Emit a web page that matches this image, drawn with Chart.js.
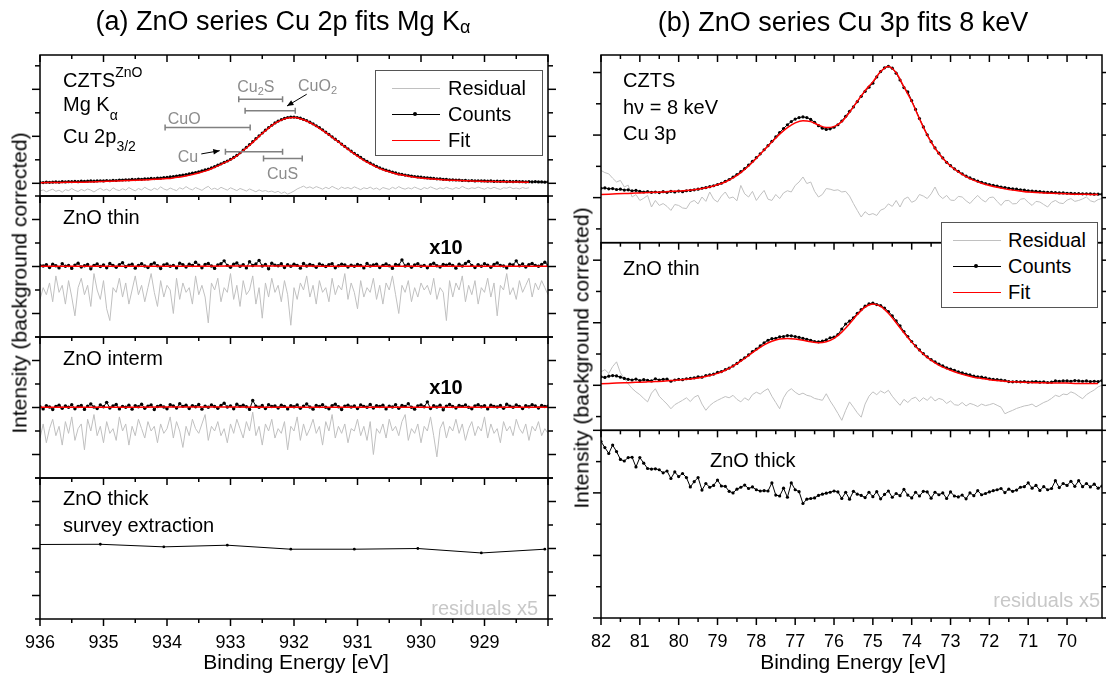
<!DOCTYPE html>
<html lang="en">
<head>
<meta charset="UTF-8" />
<title>ZnO series Cu 2p / Cu 3p fits</title>
<script src="https://cdn.jsdelivr.net/npm/chart.js"></script>
<style>
  body { margin: 0; background: #fff; }
  #page {
    position: relative; width: 1106px; height: 678px; overflow: hidden;
    font-family: "Liberation Sans", Arial, sans-serif; color: #000;
  }
  canvas { position: absolute; top: 0; }
  .t { position: absolute; font-size: 20px; line-height: 20px; white-space: nowrap; }
  .c { transform: translateX(-50%); }
  .title { font-size: 27px; line-height: 27px; }
  .axis { font-size: 21px; line-height: 21px; }
  .ytitle { transform: translate(-50%, -50%) rotate(-90deg); }
  .sm { font-size: 14px; position: relative; }
  .note { color: #c8c8c8; }
  .legend { position: absolute; border: 1px solid #555; background: #fff; }
  .legend .ln { position: absolute; left: 16px; width: 48px; height: 0; border-top: 1.5px solid; }
  .legend .dot { position: absolute; left: 21px; top: -3px; width: 4px; height: 4px; border-radius: 50%; background: #000; }
  .legend .t { left: 72px; }
</style>
</head>
<body>
<div id="page">
  <canvas id="chartA" width="575" height="678" style="left:0"></canvas>
  <canvas id="chartB" width="531" height="678" style="left:575px"></canvas>

  <!-- panel titles and axis titles -->
  <div class="t title c" style="left:283px;top:8px">(a) ZnO series Cu 2p fits Mg K<span class="sm" style="font-size:18px;top:3px">α</span></div>
  <div class="t title c" style="left:843px;top:9px">(b) ZnO series Cu 3p fits 8 keV</div>
  <div class="t axis c" style="left:296px;top:651px">Binding Energy [eV]</div>
  <div class="t axis c" style="left:853px;top:651px">Binding Energy [eV]</div>
  <div class="t axis ytitle" style="left:19px;top:283px">Intensity (background corrected)</div>
  <div class="t axis ytitle" style="left:581px;top:358px">Intensity (background corrected)</div>

  <!-- panel (a) notes -->
  <div class="t" style="left:63px;top:70px">CZTS<span class="sm" style="top:-10px">ZnO</span></div>
  <div class="t" style="left:63px;top:94px">Mg K<span class="sm" style="top:9px">α</span></div>
  <div class="t" style="left:63px;top:126px">Cu 2p<span class="sm" style="top:8px">3/2</span></div>
  <div class="t" style="left:63px;top:207px">ZnO thin</div>
  <div class="t c" style="left:446px;top:237px;font-weight:bold">x10</div>
  <div class="t" style="left:63px;top:348px">ZnO interm</div>
  <div class="t c" style="left:446px;top:377px;font-weight:bold">x10</div>
  <div class="t" style="left:63px;top:488px">ZnO thick</div>
  <div class="t" style="left:63px;top:515px">survey extraction</div>
  <div class="t note" style="right:568px;top:598px">residuals x5</div>

  <!-- panel (b) notes -->
  <div class="t" style="left:623px;top:70px">CZTS</div>
  <div class="t" style="left:623px;top:97px">hν = 8 keV</div>
  <div class="t" style="left:623px;top:123px">Cu 3p</div>
  <div class="t" style="left:623px;top:258px">ZnO thin</div>
  <div class="t" style="left:710px;top:450px">ZnO thick</div>
  <div class="t note" style="right:6px;top:590px">residuals x5</div>

  <!-- legends -->
  <div class="legend" style="left:375px;top:70px;width:166px;height:84px">
    <div class="ln" style="top:17px;border-color:#c0c0c0"></div><div class="t" style="top:7px">Residual</div>
    <div class="ln" style="top:43px;border-color:#000"><div class="dot"></div></div><div class="t" style="top:33px">Counts</div>
    <div class="ln" style="top:69px;border-color:#f00"></div><div class="t" style="top:59px">Fit</div>
  </div>
  <div class="legend" style="left:941px;top:222px;width:155px;height:84px">
    <div class="ln" style="top:17px;border-color:#c0c0c0;left:11px"></div><div class="t" style="top:7px;left:66px">Residual</div>
    <div class="ln" style="top:43px;border-color:#000;left:11px"><div class="dot"></div></div><div class="t" style="top:33px;left:66px">Counts</div>
    <div class="ln" style="top:69px;border-color:#f00;left:11px"></div><div class="t" style="top:59px;left:66px">Fit</div>
  </div>
</div>

<script>
// energy grids (binding energy, eV)
function grid(start, step, n) {
  const a = [];
  for (let i = 0; i < n; i++) a.push(+(start - i * step).toFixed(2));
  return a;
}
const e2p = grid(936, 0.05, 161);     // 936.00 .. 928.00
const e2pFit = grid(936, 0.1, 78);    // 936.0 .. 928.3
const e2pRes = grid(936, 0.05, 155);  // 936.00 .. 928.30
const e2pFlat = grid(936, 1, 9);      // 936 .. 928
const e3p = grid(82, 0.1, 130);       // 82.0 .. 69.1
const e3pFit = grid(82, 0.2, 65);     // 82.0 .. 69.2

const ticks2p = [936, 935, 934, 933, 932, 931, 930, 929];
const ticks3p = [82, 81, 80, 79, 78, 77, 76, 75, 74, 73, 72, 71, 70];

// ---- (a) Cu 2p, CZTS^ZnO, Mg Ka ----
const czts2pCounts = [
  .04,.03,.05,.04,.05,.06,.05,.07,.06,.07,
  .07,.08,.07,.09,.08,.09,.10,.09,.10,.11,
  .10,.12,.11,.13,.12,.14,.14,.15,.15,.17,
  .16,.18,.17,.19,.19,.21,.20,.22,.22,.24,
  .25,.27,.29,.31,.33,.35,.37,.40,.43,.46,
  .49,.53,.57,.61,.66,.71,.77,.83,.89,.95,
  1.02,1.10,1.19,1.30,1.41,1.53,1.65,1.77,1.90,2.02,
  2.14,2.26,2.37,2.47,2.57,2.65,2.71,2.76,2.80,2.82,
  2.82,2.80,2.77,2.72,2.67,2.60,2.53,2.45,2.37,2.28,
  2.18,2.08,1.98,1.88,1.78,1.67,1.57,1.47,1.37,1.28,
  1.19,1.10,1.01,.93,.86,.79,.72,.66,.61,.56,
  .52,.48,.44,.40,.38,.35,.33,.31,.29,.27,
  .26,.24,.23,.22,.21,.19,.19,.17,.17,.15,
  .15,.14,.14,.12,.13,.11,.12,.10,.11,.10,
  .10,.09,.10,.08,.09,.08,.09,.07,.08,.07,
  .08,.07,.07,.06,.07,.06,.07,.06,.06,.05,
  .06
];
const czts2pFit = [
  .02,.03,.03,.03,.04,.04,.05,.05,.06,.07,
  .08,.09,.10,.11,.12,.13,.14,.15,.17,.18,
  .20,.23,.27,.31,.37,.44,.52,.62,.74,.87,
  1.00,1.17,1.39,1.62,1.87,2.12,2.35,2.55,2.69,2.78,
  2.80,2.75,2.65,2.51,2.34,2.16,1.96,1.76,1.55,1.35,
  1.16,.98,.83,.69,.58,.49,.41,.35,.30,.26,
  .23,.20,.18,.16,.14,.13,.12,.11,.10,.09,
  .08,.08,.07,.07,.06,.06,.05,.05
];
const czts2pRes = [
  -.33,-.28,-.36,-.30,-.25,-.34,-.29,-.38,-.27,-.31,
  -.22,-.30,-.35,-.26,-.32,-.24,-.29,-.37,-.28,-.21,
  -.30,-.25,-.33,-.19,-.27,-.31,-.23,-.29,-.18,-.26,
  -.32,-.22,-.28,-.17,-.25,-.30,-.21,-.27,-.15,-.24,
  -.29,-.20,-.26,-.31,-.19,-.25,-.14,-.23,-.28,-.18,
  -.24,-.30,-.20,-.13,-.26,-.21,-.27,-.17,-.23,-.29,
  -.19,-.25,-.31,-.22,-.27,-.33,-.24,-.30,-.36,-.28,
  -.34,-.31,-.36,-.33,-.39,-.34,-.43,-.37,-.46,-.40,
  -.33,-.24,-.18,-.12,-.20,-.15,-.22,-.14,-.19,-.25,
  -.17,-.23,-.13,-.20,-.26,-.16,-.22,-.18,-.24,-.15,
  -.21,-.27,-.19,-.23,-.16,-.25,-.20,-.28,-.18,-.22,
  -.26,-.17,-.23,-.14,-.21,-.25,-.19,-.24,-.16,-.22,
  -.27,-.18,-.23,-.15,-.21,-.26,-.19,-.24,-.17,-.22,
  -.25,-.18,-.23,-.13,-.20,-.24,-.19,-.22,-.16,-.21,
  -.25,-.18,-.23,-.17,-.22,-.26,-.19,-.21,-.16,-.23,
  -.20,-.24,-.18,-.22,-.19
];

// ---- (a) ZnO thin, x10 ----
const thin2pCounts = [
  .05,.02,.08,-.04,.10,.03,-.06,.12,.01,.04,
  -.08,.06,.14,-.02,.03,.09,-.10,.05,.11,.00,
  .07,-.05,.13,.04,-.03,.08,.16,-.01,.06,.10,
  -.07,.04,.12,.02,-.04,.09,.15,.03,-.09,.07,
  .11,.01,.05,-.06,.14,.08,-.02,.10,.04,.18,
  .06,-.05,.09,.13,.02,-.08,.07,.12,.24,.05,
  -.03,.10,.15,.01,.08,-.06,.20,.04,.11,.26,
  .02,.09,-.10,.14,.06,.03,.12,-.04,.08,.01,
  .10,.05,-.07,.13,.02,.09,.04,-.03,.11,.06,
  .00,.08,.12,-.05,.03,.10,.07,-.02,.06,.01,
  .09,.04,-.06,.13,.02,.07,.10,-.04,.05,.11,
  .03,-.08,.09,.06,.28,.02,.10,-.03,.07,.12,
  .01,.05,-.05,.08,.14,.03,-.02,.09,.06,.11,
  .04,-.07,.10,.02,.13,.22,.05,-.04,.08,.01,
  .12,.06,-.03,.09,.15,.04,.02,-.06,.10,.07,
  .24,.03,.11,-.02,.08,.13,.05,.01,.09,.18,
  .06
];
const thin2pRes = [
  -1.4,-0.9,-1.2,-0.7,-1.5,-0.4,-1.1,-0.8,-1.6,-0.6,
  -1.3,-2.1,-0.9,-0.5,-1.2,-0.8,-1.7,-0.3,-1.0,-1.4,
  -0.6,-1.8,-2.3,-0.9,-1.1,-0.5,-1.3,-0.7,-1.6,-1.0,
  -0.4,-1.2,-0.8,-1.5,-0.9,-0.3,-1.1,-1.7,-0.6,-1.3,
  -0.8,-1.0,-2.0,-0.5,-1.4,-0.7,-1.1,-0.9,-1.6,-0.4,
  -1.2,-0.8,-1.3,-2.4,-0.7,-1.0,-0.5,-1.5,-0.9,-1.1,
  -0.3,-1.4,-0.8,-1.7,-0.6,-1.2,-1.0,-0.4,-1.6,-0.9,
  -2.2,-0.7,-1.3,-0.5,-1.1,-0.8,-1.5,-0.6,-1.2,-2.5,
  -0.9,-1.4,-0.7,-1.0,-0.4,-1.3,-0.8,-1.6,-0.6,-1.1,
  -0.9,-1.5,-0.5,-1.2,-0.8,-1.0,-0.3,-1.4,-0.7,-1.1,
  -1.8,-0.6,-1.3,-0.9,-1.1,-0.5,-1.4,-0.8,-1.6,-0.7,
  -1.0,-0.4,-1.2,-2.0,-0.8,-1.1,-0.6,-1.5,-0.9,-1.3,
  -0.7,-1.0,-0.8,-1.2,-0.5,-1.4,-0.9,-1.1,-2.3,-0.6,
  -1.3,-0.7,-1.0,-0.4,-1.5,-0.8,-1.2,-0.6,-1.6,-0.9,
  -1.1,-0.5,-1.3,-0.7,-2.1,-0.8,-1.0,-0.3,-1.2,-0.9,
  -1.4,-0.6,-1.1,-0.8,-0.5,-1.3,-0.7,-1.0,-0.6,-0.9,
  -1.2
];
const thin2pFit = [0.01, 0.01, 0.01, 0.02, 0.02, 0.01, 0.01, 0.01, 0.01];

// ---- (a) ZnO interm, x10 ----
const interm2pCounts = [
  .03,-.06,.08,.02,-.09,.05,.10,-.03,.07,.01,
  .12,-.05,.04,.09,-.08,.06,.15,.02,-.04,.11,
  .03,.22,-.02,.07,.13,-.06,.05,.01,.10,-.07,
  .08,.03,.14,-.03,.06,.11,-.09,.04,.09,.02,
  -.05,.12,.07,-.02,.16,.05,.10,-.04,.08,.03,
  .13,-.07,.06,.01,.11,.04,-.03,.09,.18,.02,
  .07,-.05,.14,.05,.10,.03,-.08,.30,.06,.01,
  .09,-.04,.12,.04,.07,-.02,.10,.05,-.06,.08,
  .03,.11,-.03,.06,.15,.02,-.07,.09,.04,.12,
  .01,-.05,.08,.14,.03,-.09,.06,.10,.02,.07,
  -.04,.11,.05,.01,.13,-.02,.08,.04,.10,-.06,
  .06,.02,.12,-.03,.09,.05,.16,.01,-.07,.07,
  .11,.03,.24,-.04,.08,.02,.10,-.10,.06,.13,
  .04,-.02,.09,.05,.11,.01,-.05,.07,.12,.03,
  .08,-.06,.10,.04,.02,.09,-.03,.14,.06,.01,
  .11,.05,-.04,.08,.03,.12,.07,-.02,.09,.04,
  .06
];
const interm2pRes = [
  -1.3,-0.7,-1.5,-0.9,-0.5,-1.2,-0.8,-1.6,-0.6,-1.1,
  -0.4,-1.4,-0.9,-0.7,-1.8,-0.5,-1.0,-0.3,-1.2,-0.8,
  -1.5,-0.6,-1.1,-0.9,-1.4,-0.4,-1.0,-0.7,-1.6,-0.8,
  -1.2,-0.5,-0.9,-1.3,-0.6,-1.0,-0.8,-1.5,-0.7,-1.1,
  -0.9,-0.4,-1.3,-0.6,-1.0,-1.7,-0.8,-1.2,-0.5,-0.9,
  -1.1,-0.7,-0.3,-1.4,-0.8,-1.0,-0.6,-1.2,-0.9,-1.5,
  -0.7,-1.1,-0.5,-0.9,-1.3,-0.6,-1.0,-0.2,-1.2,-0.8,
  -1.6,-0.7,-1.0,-0.5,-1.3,-0.9,-1.1,-0.6,-1.8,-0.8,
  -1.0,-0.4,-1.4,-0.7,-1.2,-0.9,-0.5,-1.1,-0.8,-1.6,
  -0.6,-1.0,-0.3,-1.3,-0.8,-1.1,-0.7,-1.5,-0.9,-1.0,
  -0.5,-1.2,-0.8,-1.4,-0.6,-2.0,-0.9,-1.1,-0.7,-1.3,
  -0.5,-1.0,-0.8,-1.2,-0.6,-0.3,-1.4,-0.9,-1.1,-0.7,
  -1.5,-0.8,-1.0,-0.4,-1.2,-2.1,-0.9,-0.6,-1.3,-0.8,
  -1.0,-0.5,-1.1,-0.7,-1.4,-0.9,-0.6,-1.2,-0.8,-1.0,
  -0.4,-1.3,-0.7,-1.1,-0.9,-1.5,-0.6,-1.0,-0.8,-1.2,
  -0.5,-0.9,-1.1,-0.7,-1.4,-0.8,-1.0,-0.6,-1.2,-0.9,
  -1.1
];
const interm2pFit = [0.01, 0.01, 0.02, 0.02, 0.01, 0.01, 0.01, 0.01, 0.01];

// ---- (a) ZnO thick, survey extraction ----
const surveyE = [936.05, 935.05, 934.05, 933.05, 932.05, 931.05, 930.05, 929.05, 928.05];
const surveyCounts = [0.17, 0.18, 0.07, 0.14, -0.03, -0.03, 0.0, -0.19, -0.03];

// reference binding-energy ranges drawn over the CZTS^ZnO spectrum
const refNames = ['Cu_2S', 'CuO_2', 'CuO', 'Cu', 'CuS'];
const refHigh = [932.87, 932.77, 934.03, 933.08, 932.48];
const refLow = [932.18, 931.98, 932.69, 932.18, 931.87];
const refLevel = [3.58, 3.09, 2.38, 1.34, 1.06];
const refTextE = [932.6, 931.63, 933.73, 933.67, 932.18];
const refTextY = [4.13, 4.18, 2.8, 1.16, 0.45];
const arrowFrom = [[931.8, 3.79], [933.46, 1.25]];
const arrowTo = [[932.11, 3.29], [933.17, 1.39]];

// ---- (b) Cu 3p, CZTS, 8 keV ----
const czts3pCounts = [
  .30,.31,.28,.29,.26,.27,.24,.25,.22,.23,
  .20,.18,.19,.17,.18,.16,.19,.17,.20,.18,
  .21,.19,.22,.23,.25,.27,.30,.32,.35,.38,
  .42,.46,.52,.58,.66,.74,.83,.93,1.04,1.16,
  1.28,1.40,1.53,1.66,1.80,1.94,2.08,2.21,2.33,2.43,
  2.51,2.56,2.58,2.56,2.50,2.41,2.30,2.22,2.18,2.20,
  2.25,2.33,2.45,2.60,2.76,2.90,3.07,3.24,3.40,3.53,
  3.66,3.86,4.03,4.15,4.20,4.14,3.98,3.76,3.52,3.38,
  3.10,2.82,2.53,2.26,2.01,1.79,1.59,1.42,1.27,1.13,
  1.02,.92,.84,.76,.69,.63,.58,.53,.49,.45,
  .42,.39,.37,.34,.32,.30,.28,.27,.25,.24,
  .22,.21,.20,.19,.18,.17,.17,.16,.15,.15,
  .14,.14,.13,.13,.12,.12,.12,.11,.11,.11
];
const czts3pFit = [
  .10,.11,.12,.13,.14,.15,.16,.17,.18,.20,
  .21,.23,.25,.29,.34,.41,.50,.63,.80,1.01,
  1.26,1.52,1.78,2.03,2.24,2.39,2.46,2.43,2.32,2.24,
  2.27,2.43,2.73,3.08,3.42,3.70,4.03,4.19,3.99,3.54,
  3.08,2.52,2.00,1.58,1.26,1.01,.82,.67,.55,.46,
  .39,.33,.28,.24,.21,.18,.16,.15,.14,.13,
  .12,.11,.11,.10,.10
];
const czts3pRes = [
  .87,.80,.76,.62,.50,.55,.34,.40,.02,.10,
  -.09,-.02,.07,-.30,-.09,-.25,-.19,-.28,-.41,-.22,
  -.25,-.33,-.35,-.15,-.09,-.20,.02,-.12,.18,-.05,
  -.14,.05,.18,-.02,.02,-.10,.39,.12,.02,.20,
  -.09,.08,.23,-.05,-.09,.10,-.03,.15,.22,.18,
  .39,.50,.66,.45,.50,.20,.02,.10,.29,.27,
  .23,.25,.18,.20,.05,-.19,-.41,-.62,-.45,-.55,
  -.51,-.57,-.40,-.35,-.20,-.28,-.09,-.30,-.05,.02,
  -.15,-.09,.10,.05,-.03,.12,.34,.08,-.03,.07,
  -.08,-.09,.04,.02,-.10,-.19,-.05,.07,-.06,-.14,
  .00,.02,-.12,-.25,-.10,-.09,-.20,-.19,-.05,-.03,
  -.15,-.25,-.12,-.14,-.22,-.30,-.15,-.09,-.17,-.19,
  -.08,-.03,-.12,-.09,-.04,.02,-.10,-.14,-.06,-.03
];

// ---- (b) ZnO thin ----
const thin3pCounts = [
  .27,.25,.29,.31,.30,.26,.22,.19,.17,.20,
  .15,.18,.16,.14,.21,.17,.19,.20,.13,.17,
  .19,.18,.21,.22,.24,.27,.26,.31,.33,.36,
  .41,.44,.50,.55,.62,.70,.80,.88,.97,1.08,
  1.16,1.26,1.36,1.44,1.49,1.50,1.55,1.56,1.59,1.58,
  1.56,1.53,1.50,1.47,1.44,1.40,1.39,1.41,1.45,1.52,
  1.54,1.62,1.80,1.96,2.05,2.16,2.30,2.42,2.53,2.60,
  2.63,2.58,2.55,2.47,2.36,2.22,2.06,1.90,1.72,1.56,
  1.40,1.26,1.13,1.01,.91,.82,.75,.68,.62,.56,
  .52,.48,.43,.40,.36,.33,.29,.27,.26,.24,
  .21,.19,.18,.17,.15,.12,.11,.12,.11,.12,
  .10,.11,.12,.10,.11,.09,.10,.14,.13,.14,
  .14,.13,.15,.14,.13,.14,.12,.13,.12,.15
];
const thin3pFit = [
  .05,.06,.07,.08,.09,.10,.11,.12,.13,.15,
  .17,.19,.22,.26,.31,.38,.48,.61,.77,.95,
  1.13,1.29,1.41,1.48,1.50,1.48,1.44,1.39,1.36,1.39,
  1.50,1.70,1.97,2.26,2.50,2.60,2.52,2.30,2.00,1.68,
  1.38,1.11,.89,.72,.58,.48,.39,.32,.26,.22,
  .18,.15,.13,.11,.10,.09,.08,.08,.07,.07,
  .07,.06,.06,.06,.06
];
const thin3pRes = [
  .43,.50,.38,.60,.75,.40,.22,.05,-.10,-.21,
  -.30,-.42,-.53,-.25,-.11,-.35,-.48,-.60,-.75,-.62,
  -.55,-.48,-.40,-.52,-.38,-.32,-.60,-.80,-.65,-.55,
  -.48,-.42,-.36,-.40,-.32,-.45,-.53,-.40,-.48,-.30,
  -.22,-.28,-.18,-.11,-.35,-.55,-.75,-.40,-.20,-.11,
  -.22,-.30,-.25,-.32,-.35,-.42,-.45,-.48,-.27,-.50,
  -.69,-.90,-1.12,-.80,-.53,-.70,-.88,-1.02,-.60,-.35,
  -.21,-.30,-.18,-.25,-.16,-.35,-.50,-.64,-.45,-.55,
  -.43,-.38,-.52,-.40,-.48,-.36,-.50,-.42,-.46,-.58,
  -.50,-.62,-.64,-.55,-.66,-.58,-.62,-.68,-.60,-.65,
  -.62,-.58,-.64,-.70,-.91,-.85,-.80,-.74,-.70,-.66,
  -.64,-.60,-.69,-.62,-.55,-.50,-.42,-.32,-.36,-.28,
  -.30,-.21,-.26,-.35,-.43,-.30,-.22,-.15,-.05,.00
];

// ---- (b) ZnO thick ----
const thick3pCounts = [
  1.64,1.45,1.26,1.53,1.32,1.07,1.02,1.13,1.14,.83,
  1.13,.95,.78,.76,.77,.74,.64,.70,.46,.67,
  .52,.62,.49,.19,.36,.49,.09,.30,.18,.24,
  .41,.22,.21,.05,.00,.12,.18,.25,.14,.19,
  .10,.06,.07,.06,.32,-.07,-.10,.15,-.14,.32,
  .10,.04,-.34,-.20,-.18,-.16,-.08,-.04,-.01,.02,
  .06,.03,-.18,.02,-.20,.05,-.04,-.08,-.15,.02,
  -.12,.04,-.19,-.05,.06,-.14,-.02,-.09,.11,-.07,
  -.16,.02,-.10,.05,.03,-.17,.02,-.06,.00,-.18,
  .03,-.10,-.13,-.07,-.19,.00,-.09,.07,-.06,-.02,
  .03,.07,.10,.14,.01,.12,.05,.09,.18,.20,
  .32,.15,.24,.08,.20,.10,.14,.39,.17,.30,
  .24,.37,.21,.39,.20,.30,.19,.28,.15,.22
];

const pts = (xs, ys) => ys.map((y, i) => ({ x: xs[i], y }));

const RES = '#c0c0c0', FIT = '#ff0000', CNT = '#000000';
function resSet(xs, ys, axis) {
  return { data: pts(xs, ys), yAxisID: axis, borderColor: RES, borderWidth: 1, pointRadius: 0, order: 3 };
}
function cntSet(xs, ys, axis, r) {
  return { data: pts(xs, ys), yAxisID: axis, borderColor: CNT, borderWidth: 1, pointRadius: r,
           pointBackgroundColor: CNT, pointBorderWidth: 0, order: 2 };
}
function fitSet(xs, ys, axis) {
  return { data: pts(xs, ys), yAxisID: axis, borderColor: FIT, borderWidth: 1.5, pointRadius: 0,
           cubicInterpolationMode: 'monotone', order: 1 };
}

const hidden = { grid: { display: false, drawTicks: false }, ticks: { display: false }, border: { display: false } };
function yAxis(min, max) {
  return Object.assign({ type: 'linear', position: 'right', stack: 'p', stackWeight: 1, min, max }, hidden);
}

// frame, tick marks and bottom tick labels for every stacked panel
const framePlugin = {
  id: 'frame',
  afterDatasetsDraw(chart, args, opts) {
    const ctx = chart.ctx, x = chart.scales.x;
    const seg = (x1, y1, x2, y2) => { ctx.beginPath(); ctx.moveTo(x1, y1); ctx.lineTo(x2, y2); ctx.stroke(); };
    ctx.save();
    ctx.strokeStyle = '#000';
    ctx.lineWidth = 1.5;
    const n = opts.panels.length;
    opts.panels.forEach((id, k) => {
      const y = chart.scales[id];
      ctx.strokeRect(x.left, y.top, x.right - x.left, y.bottom - y.top);
      for (let v = Math.ceil(y.min - 1e-6); v <= y.max + 1e-6; v++) {
        const py = y.getPixelForValue(v);
        const len = Math.abs(v) % 2 === 0 ? 8 : 5;
        seg(x.left - len, py, x.left, py);
        seg(x.right, py, x.right + len, py);
      }
      for (let h = Math.ceil(x.min * 2 - 1e-6); h <= x.max * 2 + 1e-6; h++) {
        const px = x.getPixelForValue(h / 2);
        const len = h % 2 === 0 ? 7 : 4;
        seg(px, y.top, px, y.top + len);
        if (k === n - 1) seg(px, y.bottom, px, y.bottom + len);
      }
    });
    const last = chart.scales[opts.panels[n - 1]];
    ctx.fillStyle = '#000';
    ctx.font = '18px "Liberation Sans", Arial, sans-serif';
    ctx.textAlign = 'center';
    ctx.textBaseline = 'alphabetic';
    opts.labels.forEach(v => ctx.fillText(String(v), x.getPixelForValue(v), last.bottom + 28.5));
    ctx.restore();
  }
};

// label with a one-digit subscript written as "Cu_2S"
function drawSubLabel(ctx, text, cx, cy) {
  const parts = text.split(/_(\d)/);
  const big = '16px "Liberation Sans", Arial, sans-serif', small = '11px "Liberation Sans", Arial, sans-serif';
  let w = 0;
  parts.forEach((p, i) => { ctx.font = i % 2 ? small : big; w += ctx.measureText(p).width; });
  let px = cx - w / 2;
  ctx.textAlign = 'left';
  ctx.textBaseline = 'alphabetic';
  parts.forEach((p, i) => {
    ctx.font = i % 2 ? small : big;
    ctx.fillText(p, px, cy + 6 + (i % 2 ? 3 : 0));
    px += ctx.measureText(p).width;
  });
}

const refPlugin = {
  id: 'refs',
  afterDatasetsDraw(chart) {
    const ctx = chart.ctx, x = chart.scales.x, y = chart.scales.y0;
    ctx.save();
    ctx.strokeStyle = '#808080';
    ctx.fillStyle = '#8c8c8c';
    ctx.lineWidth = 1.5;
    refNames.forEach((name, i) => {
      const x1 = x.getPixelForValue(refHigh[i]), x2 = x.getPixelForValue(refLow[i]);
      const py = y.getPixelForValue(refLevel[i]);
      ctx.beginPath();
      ctx.moveTo(x1, py); ctx.lineTo(x2, py);
      ctx.moveTo(x1, py - 3); ctx.lineTo(x1, py + 3);
      ctx.moveTo(x2, py - 3); ctx.lineTo(x2, py + 3);
      ctx.stroke();
      drawSubLabel(ctx, name, x.getPixelForValue(refTextE[i]), y.getPixelForValue(refTextY[i]));
    });
    ctx.strokeStyle = '#000';
    ctx.fillStyle = '#000';
    ctx.lineWidth = 1;
    arrowFrom.forEach((f, i) => {
      const x1 = x.getPixelForValue(f[0]), y1 = y.getPixelForValue(f[1]);
      const x2 = x.getPixelForValue(arrowTo[i][0]), y2 = y.getPixelForValue(arrowTo[i][1]);
      const a = Math.atan2(y2 - y1, x2 - x1);
      ctx.beginPath(); ctx.moveTo(x1, y1); ctx.lineTo(x2, y2); ctx.stroke();
      ctx.beginPath();
      ctx.moveTo(x2, y2);
      ctx.lineTo(x2 - 7 * Math.cos(a - 0.4), y2 - 7 * Math.sin(a - 0.4));
      ctx.lineTo(x2 - 7 * Math.cos(a + 0.4), y2 - 7 * Math.sin(a + 0.4));
      ctx.closePath();
      ctx.fill();
    });
    ctx.restore();
  }
};

const common = {
  responsive: false,
  animation: false,
  events: [],
  plugins: { legend: { display: false }, tooltip: { enabled: false } }
};

// (a) Cu 2p, four stacked panels
new Chart(document.getElementById('chartA'), {
  type: 'line',
  data: {
    datasets: [
      resSet(e2pRes, czts2pRes, 'y0'),
      cntSet(e2p, czts2pCounts, 'y0', 1.6),
      fitSet(e2pFit, czts2pFit, 'y0'),
      resSet(e2p, thin2pRes, 'y1'),
      cntSet(e2p, thin2pCounts, 'y1', 1.7),
      fitSet(e2pFlat, thin2pFit, 'y1'),
      resSet(e2p, interm2pRes, 'y2'),
      cntSet(e2p, interm2pCounts, 'y2', 1.7),
      fitSet(e2pFlat, interm2pFit, 'y2'),
      cntSet(surveyE, surveyCounts, 'y3', 1.4)
    ]
  },
  options: Object.assign({}, common, {
    layout: { padding: { left: 40, right: 27, top: 55, bottom: 59 } },
    plugins: Object.assign({}, common.plugins, { frame: { panels: ['y0', 'y1', 'y2', 'y3'], labels: ticks2p } }),
    scales: {
      x: Object.assign({ type: 'linear', min: 928, max: 936, reverse: true }, hidden),
      y0: yAxis(-0.54, 5.46),
      y1: yAxis(-3, 3),
      y2: yAxis(-3, 3),
      y3: yAxis(-3, 3)
    }
  }),
  plugins: [framePlugin, refPlugin]
});

// (b) Cu 3p, three stacked panels
new Chart(document.getElementById('chartB'), {
  type: 'line',
  data: {
    datasets: [
      resSet(e3p, czts3pRes, 'y0'),
      cntSet(e3p, czts3pCounts, 'y0', 1.6),
      fitSet(e3pFit, czts3pFit, 'y0'),
      resSet(e3p, thin3pRes, 'y1'),
      cntSet(e3p, thin3pCounts, 'y1', 1.6),
      fitSet(e3pFit, thin3pFit, 'y1'),
      cntSet(e3p, thick3pCounts, 'y2', 1.6)
    ]
  },
  options: Object.assign({}, common, {
    layout: { padding: { left: 26, right: 2, top: 55, bottom: 60 } },
    plugins: Object.assign({}, common.plugins, { frame: { panels: ['y0', 'y1', 'y2'], labels: ticks3p } }),
    scales: {
      x: Object.assign({ type: 'linear', min: 69.1, max: 82, reverse: true }, hidden),
      y0: yAxis(-1.44, 4.56),
      y1: yAxis(-1.44, 4.56),
      y2: yAxis(-4, 2)
    }
  }),
  plugins: [framePlugin]
});
</script>
</body>
</html>
